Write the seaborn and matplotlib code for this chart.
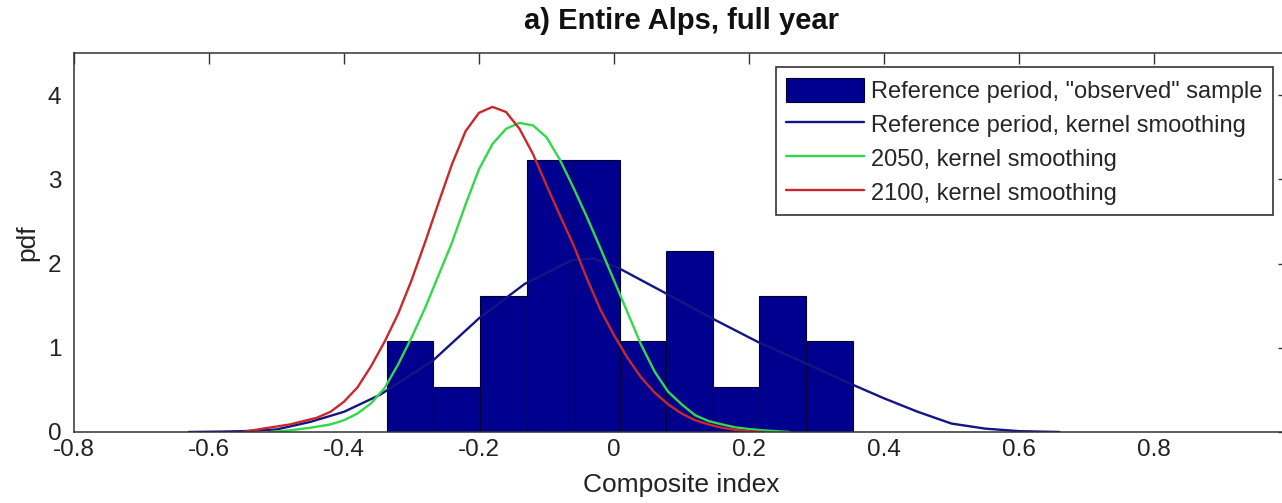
import numpy as np
import pandas as pd
import seaborn as sns
import matplotlib
matplotlib.use("Agg")
import matplotlib.pyplot as plt

# ---------------- data ----------------
title = "a) Entire Alps, full year"
xlabel = "Composite index"
ylabel = "pdf"
legend_labels = ['Reference period, "observed" sample',
                 "Reference period, kernel smoothing",
                 "2050, kernel smoothing",
                 "2100, kernel smoothing"]

hist_centers = [-0.302, -0.233, -0.164, -0.095, -0.026, 0.043, 0.112, 0.181, 0.250, 0.319]
hist_heights = [1.08, 0.54, 1.61, 3.23, 3.23, 1.08, 2.15, 0.54, 1.61, 1.08]
hist_binwidth = 0.0691

ref_x = [-0.63, -0.58, -0.55, -0.50, -0.45, -0.40, -0.347, -0.268, -0.20, -0.132, -0.062,
         -0.03, 0.006, 0.076, 0.145, 0.213, 0.283, 0.354, 0.40, 0.45, 0.50, 0.55, 0.60, 0.66]
ref_y = [0.0, 0.005, 0.01, 0.03, 0.12, 0.24, 0.44, 0.85, 1.35, 1.76, 2.04,
         2.06, 1.95, 1.65, 1.35, 1.07, 0.82, 0.56, 0.40, 0.24, 0.10, 0.04, 0.01, 0.0]

y2050_x = [-0.51, -0.48, -0.45, -0.42, -0.40, -0.38, -0.36, -0.34, -0.32, -0.30, -0.28,
           -0.26, -0.24, -0.22, -0.20, -0.18, -0.16, -0.14, -0.12, -0.10, -0.08, -0.06,
           -0.04, -0.02, 0.0, 0.02, 0.04, 0.06, 0.08, 0.10, 0.12, 0.14, 0.16, 0.18,
           0.20, 0.22, 0.24, 0.26]
y2050_y = [0.0, 0.02, 0.05, 0.09, 0.14, 0.22, 0.34, 0.52, 0.80, 1.12, 1.47,
           1.86, 2.25, 2.70, 3.12, 3.42, 3.60, 3.67, 3.64, 3.50, 3.23, 2.90,
           2.55, 2.18, 1.80, 1.42, 1.04, 0.72, 0.48, 0.33, 0.20, 0.13, 0.09, 0.055,
           0.035, 0.02, 0.01, 0.0]

y2100_x = [-0.55, -0.52, -0.48, -0.44, -0.42, -0.40, -0.38, -0.36, -0.34, -0.32, -0.30,
           -0.28, -0.26, -0.24, -0.22, -0.20, -0.18, -0.16, -0.14, -0.12, -0.10, -0.08,
           -0.06, -0.04, -0.02, 0.0, 0.02, 0.04, 0.06, 0.08, 0.10, 0.12, 0.14, 0.16,
           0.18, 0.20, 0.22]
y2100_y = [0.0, 0.04, 0.09, 0.17, 0.24, 0.36, 0.53, 0.78, 1.07, 1.40, 1.80,
           2.25, 2.72, 3.18, 3.57, 3.79, 3.86, 3.80, 3.60, 3.30, 2.93, 2.57,
           2.22, 1.82, 1.45, 1.15, 0.88, 0.65, 0.47, 0.33, 0.22, 0.14, 0.09, 0.05,
           0.025, 0.01, 0.0]

xticks = [-0.8, -0.6, -0.4, -0.2, 0, 0.2, 0.4, 0.6, 0.8, 1.0]
xticklabels = ["-0.8", "-0.6", "-0.4", "-0.2", "0", "0.2", "0.4", "0.6", "0.8", "1"]
yticks = [0, 1, 2, 3, 4]

# ---------------- style ----------------
sns.set_style("white")
plt.rcParams["font.family"] = ["Liberation Sans", "DejaVu Sans"]
plt.rcParams["axes.unicode_minus"] = False

BAR = "#00008f"
C_REF = "#141482"
C_2050 = "#33d84a"
C_2100 = "#c8282c"
AX_C = "#333333"
TXT = "#222222"

fig = plt.figure(figsize=(12.82, 5.03), dpi=100)
ax = fig.add_axes([74 / 1282, 71 / 503, 1215 / 1282, 379 / 503])

lo = hist_centers[0] - hist_binwidth / 2
hi = hist_centers[-1] + hist_binwidth / 2
sns.histplot(x=hist_centers, weights=hist_heights, binwidth=hist_binwidth,
             binrange=(lo, hi), stat="count", color=BAR, edgecolor="#000030",
             linewidth=0.8, alpha=1.0, ax=ax)
bar_handle = ax.patches[0]

sns.lineplot(x=ref_x, y=ref_y, color=C_REF, lw=1.7, ax=ax, sort=False)
sns.lineplot(x=y2050_x, y=y2050_y, color=C_2050, lw=1.7, ax=ax, sort=False)
sns.lineplot(x=y2100_x, y=y2100_y, color=C_2100, lw=1.7, ax=ax, sort=False)
line_handles = ax.lines[:3]

ax.set_xlim(-0.8, 1.0)
ax.set_ylim(0, 4.5)
ax.set_xticks(xticks)
ax.set_xticklabels(xticklabels)
ax.set_yticks(yticks)

for s in ax.spines.values():
    s.set_visible(True)
    s.set_color(AX_C)
    s.set_linewidth(1.1)

ax.tick_params(direction="in", length=8, width=1, color=AX_C,
               top=True, right=True, labelsize=17.5, labelcolor=TXT)
ax.tick_params(axis="x", pad=5)
ax.tick_params(axis="y", pad=9)

ax.set_xlabel(xlabel, fontsize=19, color=TXT, labelpad=9)
ax.set_ylabel(ylabel, fontsize=19, color=TXT, labelpad=6)
ax.set_title(title, fontsize=21, fontweight="bold", color="#111111", pad=17)

leg = ax.legend([bar_handle] + list(line_handles), legend_labels,
                loc="upper right", bbox_to_anchor=(0.987, 0.963), borderaxespad=0,
                fancybox=False, frameon=True, fontsize=17, handlelength=3.3,
                handleheight=1.2, handletextpad=0.3, labelspacing=0.38,
                borderpad=0.45)
leg.get_frame().set_edgecolor(AX_C)
leg.get_frame().set_linewidth(1.2)
leg.get_frame().set_alpha(1)

fig.savefig("out.png", dpi=100)
